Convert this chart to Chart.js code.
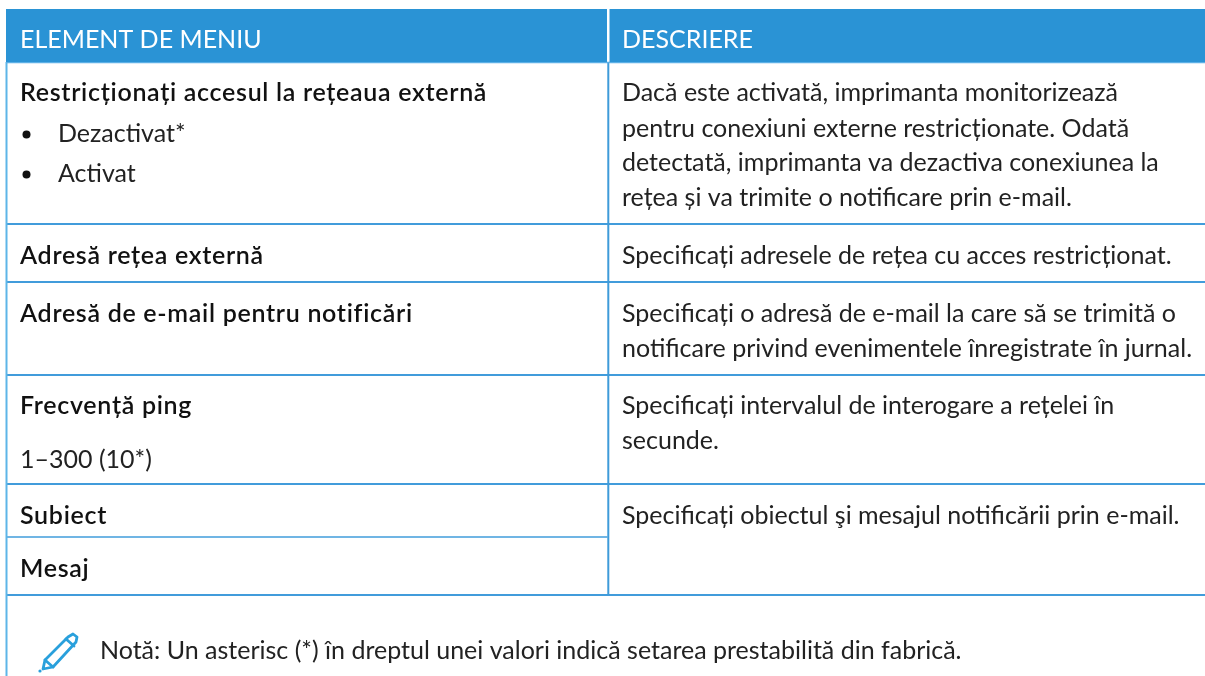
<!DOCTYPE html>
<html lang="ro"><head><meta charset="utf-8">
<style>html,body{margin:0;padding:0;background:#fff}#w{width:1205px;height:676px;position:relative}</style>
<script src="https://cdn.jsdelivr.net/npm/chart.js@4"></script></head>
<body><div id="w"><canvas id="c" width="1205" height="676"></canvas></div>
<script>
const headers = ["ELEMENT DE MENIU", "DESCRIERE"];
const menuItems = ["Restricționați accesul la rețeaua externă", "Adresă rețea externă", "Adresă de e-mail pentru notificări", "Frecvență ping", "Subiect", "Mesaj"];
const menuOptions = ["Dezactivat*", "Activat", "1–300 (10*)"];
const descriptions = ["Dacă este activată, imprimanta monitorizează", "pentru conexiuni externe restricționate. Odată", "detectată, imprimanta va dezactiva conexiunea la", "rețea și va trimite o notificare prin e-mail.", "Specificați adresele de rețea cu acces restricționat.", "Specificați o adresă de e-mail la care să se trimită o", "notificare privind evenimentele înregistrate în jurnal.", "Specificați intervalul de interogare a rețelei în", "secunde.", "Specificați obiectul şi mesajul notificării prin e-mail."];
const note = "Notă: Un asterisc (*) în dreptul unei valori indică setarea prestabilită din fabrică.";

const FONT = 'Lato';
const ruleYs = [224, 282, 375, 484, 595];
const seg = (pts, color, w) => ({type:'line', data:pts.map(p=>({x:p[0],y:p[1]})), borderColor:color, borderWidth:w, pointRadius:0, tension:0, fill:false, borderCapStyle:'butt', clip:false});
const datasets = [
  seg([[6,35.5],[607,35.5]], '#2a93d5', 53),
  seg([[609.5,35.5],[1205,35.5]], '#2a93d5', 53),
  seg([[6,62.5],[1205,62.5]], '#5db0e6', 1.5),
  seg([[6.5,62],[6.5,676]], '#5db5e8', 2),
  seg([[608.3,62],[608.3,595]], '#3f9bd9', 2),
  ...ruleYs.map(y=>seg([[6,y],[1205,y]], '#419cdb', 2)),
  seg([[7,537],[607.5,537]], '#419cdb', 1.5)
];
const leftX=20, rightX=622;
const texts = [
  [headers[0], leftX, 48, '#ffffff', 400],
  [headers[1], rightX, 48, '#ffffff', 400],
  [menuItems[0], leftX, 101, '#111', 600],
  [menuOptions[0], 58, 142, '#222', 400],
  [menuOptions[1], 58, 182, '#222', 400],
  [menuItems[1], leftX, 264, '#111', 600],
  [menuItems[2], leftX, 322, '#111', 600],
  [menuItems[3], leftX, 414, '#111', 600],
  [menuOptions[2], leftX, 468, '#222', 400],
  [menuItems[4], leftX, 524, '#111', 600],
  [menuItems[5], leftX, 577, '#111', 600],
  [descriptions[0], rightX, 101, '#222', 400],
  [descriptions[1], rightX, 137, '#222', 400],
  [descriptions[2], rightX, 171, '#222', 400],
  [descriptions[3], rightX, 206, '#222', 400],
  [descriptions[4], rightX, 264, '#222', 400],
  [descriptions[5], rightX, 322, '#222', 400],
  [descriptions[6], rightX, 357, '#222', 400],
  [descriptions[7], rightX, 414, '#222', 400],
  [descriptions[8], rightX, 449, '#222', 400],
  [descriptions[9], rightX, 524, '#222', 400],
  [note, 100, 659, '#222', 400]
];
const overlay = {
  id:'overlay',
  afterDatasetsDraw(chart){
    const {ctx, scales:{x,y}} = chart;
    ctx.save();
    ctx.textBaseline='alphabetic'; ctx.textAlign='left';
    for(const [s,tx,ty,col,wt] of texts){
      ctx.font = `${wt} 25px ${FONT}`;
      ctx.letterSpacing = wt==600 ? '0.7px' : '0px';
      ctx.fillStyle = col;
      ctx.fillText(s, x.getPixelForValue(tx), y.getPixelForValue(ty));
    }
    ctx.letterSpacing='0px';
    ctx.fillStyle='#111';
    for(const by of [134.5,174.5]){ctx.beginPath();ctx.arc(x.getPixelForValue(26.5),y.getPixelForValue(by),4,0,7);ctx.fill();}
    ctx.strokeStyle='#29a0dc'; ctx.lineWidth=2.8; ctx.lineJoin='round'; ctx.lineCap='round';
    const P=(a,b)=>[x.getPixelForValue(a),y.getPixelForValue(b)];
    const path=(pts,close)=>{ctx.beginPath();pts.forEach((p,i)=>{const q=P(p[0],p[1]);i?ctx.lineTo(q[0],q[1]):ctx.moveTo(q[0],q[1]);});if(close)ctx.closePath();ctx.stroke();};
    path([[45,660],[68,637],[73,634],[77,637],[76,642],[53,667],[43,669]],true);
    path([[45,660],[53,667]]);
    path([[66,639],[74,646]]);
    ctx.fillStyle='#29a0dc';ctx.beginPath();const d=P(40,671);ctx.arc(d[0],d[1],1.6,0,7);ctx.fill();
    ctx.restore();
  }
};
new Chart(document.getElementById('c'),{
  type:'line',
  data:{datasets},
  plugins:[overlay],
  options:{responsive:false, animation:false, layout:{padding:0},
    plugins:{legend:{display:false},tooltip:{enabled:false},title:{display:false}},
    scales:{x:{type:'linear',min:0,max:1205,display:false},y:{type:'linear',min:0,max:676,reverse:true,display:false}}}
});
</script></body></html>
